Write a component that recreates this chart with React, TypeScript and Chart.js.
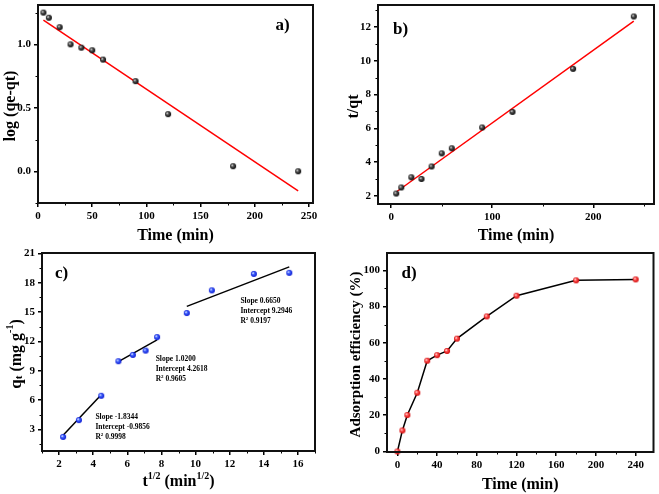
import React, { useEffect, useRef } from 'react';
import { Chart, registerables } from 'chart.js';
Chart.register(...registerables);

const FONT = "'Liberation Serif', 'Times New Roman', serif";

// ---- Panel a: pseudo-first-order ----
const timeA = [5, 10, 20, 30, 40, 50, 60, 90, 120, 180, 240];
const logQeQt = [1.25, 1.21, 1.135, 1.0, 0.974, 0.953, 0.88, 0.71, 0.45, 0.04, 0.0];
const fitAx = [5, 240];
const fitAy = [1.19, -0.155];
const ticksAx = [0, 50, 100, 150, 200, 250];
const ticksAy = [0, 0.5, 1.0];

// ---- Panel b: pseudo-second-order ----
const timeB = [5, 10, 20, 30, 40, 50, 60, 90, 120, 180, 240];
const tOverQt = [2.14, 2.5, 3.1, 3.0, 3.74, 4.52, 4.82, 6.05, 6.97, 9.52, 12.62];
const fitBx = [5, 240];
const fitBy = [2.23, 12.35];
const ticksBx = [0, 100, 200];
const ticksBy = [2, 4, 6, 8, 10, 12];

// ---- Panel c: intraparticle diffusion ----
const sqrtT = [2.236, 3.162, 4.472, 5.477, 6.325, 7.071, 7.746, 9.487, 10.954, 13.416, 15.492];
const qt = [2.24, 3.96, 6.45, 9.98, 10.63, 11.07, 12.45, 14.91, 17.23, 18.91, 19.02];
const fitC1x = [2.236, 4.472];
const fitC1y = [2.4, 6.55];
const fitC2x = [5.477, 7.746];
const fitC2y = [9.94, 12.17];
const fitC3x = [9.487, 15.492];
const fitC3y = [15.59, 19.63];
const ticksCx = [2, 4, 6, 8, 10, 12, 14, 16];
const ticksCy = [3, 6, 9, 12, 15, 18, 21];
const noteX = [4.13, 7.66, 12.63];
const noteY = [4.3, 10.19, 16.17];
const noteSlope = ['-1.8344', '1.0200', '0.6650'];
const noteIntercept = ['-0.9856', '4.2618', '9.2946'];
const noteR2 = ['0.9998', '0.9605', '0.9197'];

// ---- Panel d: adsorption efficiency ----
const timeD = [0, 5, 10, 20, 30, 40, 50, 60, 90, 120, 180, 240];
const efficiency = [0, 11.6, 20.1, 32.4, 50.1, 53.2, 55.5, 62.3, 74.6, 86.0, 94.5, 95.0];
const ticksDx = [0, 40, 80, 120, 160, 200, 240];
const ticksDy = [0, 20, 40, 60, 80, 100];

type Seg = { t: string; size: number; dy?: number };

function drawRich(ctx: CanvasRenderingContext2D, segs: Seg[], x: number, y: number, rotate: boolean, align: 'center' | 'left' = 'center') {
  ctx.save();
  ctx.translate(x, y);
  if (rotate) ctx.rotate(-Math.PI / 2);
  ctx.fillStyle = '#000';
  ctx.textBaseline = 'middle';
  ctx.textAlign = 'left';
  let w = 0;
  for (const s of segs) {
    ctx.font = `bold ${s.size}px ${FONT}`;
    w += ctx.measureText(s.t).width;
  }
  let cx = align === 'center' ? -w / 2 : 0;
  for (const s of segs) {
    ctx.font = `bold ${s.size}px ${FONT}`;
    ctx.fillText(s.t, cx, s.dy || 0);
    cx += ctx.measureText(s.t).width;
  }
  ctx.restore();
}

function sphere(base: string, mid: string, r: number) {
  const c = document.createElement('canvas');
  const s = Math.ceil(r * 2) + 2;
  c.width = s;
  c.height = s;
  const g = c.getContext('2d')!;
  const grad = g.createRadialGradient(s / 2 - r * 0.35, s / 2 - r * 0.35, 0.2, s / 2, s / 2, r);
  grad.addColorStop(0, '#ffffff');
  grad.addColorStop(0.35, mid);
  grad.addColorStop(1, base);
  g.fillStyle = grad;
  g.beginPath();
  g.arc(s / 2, s / 2, r, 0, Math.PI * 2);
  g.fill();
  return c;
}

const pts = (xs: number[], ys: number[]) => xs.map((x, i) => ({ x, y: ys[i] }));

interface PanelCfg {
  W: number; H: number; L: number; T: number; R: number; B: number;
  xmin: number; xmax: number; ymin: number; ymax: number;
  xt: number[]; yt: number[]; yfmt?: (v: number) => string;
  minorX: number; minorY: number;
  titleX: Seg[]; titleXY: number;
  titleY: Seg[]; titleYX: number;
  label: string; labelX: number; labelY: number;
  datasets: any[];
  notes?: boolean;
}

function makeChart(canvas: HTMLCanvasElement, cfg: PanelCfg) {
  const tickFont = { family: FONT, size: 11, weight: 'bold' as const };
  const deco = {
    id: 'deco',
    afterDraw(chart: any) {
      const ctx: CanvasRenderingContext2D = chart.ctx;
      const a = chart.chartArea;
      const xs = chart.scales.x;
      const ys = chart.scales.y;
      ctx.save();
      // minor ticks
      ctx.strokeStyle = '#000';
      ctx.lineWidth = 1;
      const isMajor = (v: number, arr: number[]) => arr.some((m) => Math.abs(m - v) < 1e-6);
      for (let v = Math.ceil(cfg.xmin / cfg.minorX) * cfg.minorX; v <= cfg.xmax + 1e-9; v += cfg.minorX) {
        if (isMajor(v, cfg.xt)) continue;
        const px = Math.round(xs.getPixelForValue(v)) + 0.5;
        ctx.beginPath();
        ctx.moveTo(px, a.bottom);
        ctx.lineTo(px, a.bottom + 2.5);
        ctx.stroke();
      }
      for (let v = Math.ceil(cfg.ymin / cfg.minorY) * cfg.minorY; v <= cfg.ymax + 1e-9; v += cfg.minorY) {
        if (isMajor(v, cfg.yt)) continue;
        const py = Math.round(ys.getPixelForValue(v)) + 0.5;
        ctx.beginPath();
        ctx.moveTo(a.left - 2.5, py);
        ctx.lineTo(a.left, py);
        ctx.stroke();
      }
      // frame
      ctx.lineWidth = 2;
      ctx.strokeStyle = '#111';
      ctx.strokeRect(a.left, a.top, a.right - a.left, a.bottom - a.top);
      ctx.restore();
      // titles
      drawRich(ctx, cfg.titleX, (a.left + a.right) / 2, cfg.titleXY, false);
      drawRich(ctx, cfg.titleY, cfg.titleYX, (a.top + a.bottom) / 2 + 2, true);
      drawRich(ctx, [{ t: cfg.label, size: 17 }], cfg.labelX, cfg.labelY, false);
      if (cfg.notes) {
        for (let i = 0; i < noteX.length; i++) {
          const px = xs.getPixelForValue(noteX[i]);
          const py = ys.getPixelForValue(noteY[i]);
          drawRich(ctx, [{ t: 'Slope ' + noteSlope[i], size: 7.5 }], px, py, false, 'left');
          drawRich(ctx, [{ t: 'Intercept ' + noteIntercept[i], size: 7.5 }], px, py + 10, false, 'left');
          drawRich(ctx, [{ t: 'R', size: 7.5 }, { t: '2', size: 5, dy: -2.5 }, { t: ' ' + noteR2[i], size: 7.5 }], px, py + 20, false, 'left');
        }
      }
    },
  };
  return new Chart(canvas, {
    type: 'scatter',
    data: { datasets: cfg.datasets },
    options: {
      responsive: false,
      animation: false,
      devicePixelRatio: 1,
      layout: { padding: { left: 0, top: cfg.T, right: cfg.W - cfg.R, bottom: 0 } },
      plugins: { legend: { display: false }, tooltip: { enabled: false } },
      scales: {
        x: {
          type: 'linear',
          min: cfg.xmin,
          max: cfg.xmax,
          afterBuildTicks: (s: any) => { s.ticks = cfg.xt.map((v) => ({ value: v })); },
          afterFit: (s: any) => { s.height = cfg.H - cfg.B; s.paddingLeft = 0; s.paddingRight = 0; s.paddingTop = 0; s.paddingBottom = 0; },
          ticks: { font: tickFont, color: '#000', padding: 3, maxRotation: 0, autoSkip: false },
          grid: { drawOnChartArea: false, drawTicks: true, tickLength: 4, color: '#000', lineWidth: 1.5 },
          border: { display: false },
        },
        y: {
          type: 'linear',
          min: cfg.ymin,
          max: cfg.ymax,
          afterBuildTicks: (s: any) => { s.ticks = cfg.yt.map((v) => ({ value: v })); },
          afterFit: (s: any) => { s.width = cfg.L; s.paddingLeft = 0; s.paddingRight = 0; s.paddingTop = 0; s.paddingBottom = 0; },
          ticks: {
            font: tickFont, color: '#000', padding: 3, autoSkip: false,
            callback: (v: any) => (cfg.yfmt ? cfg.yfmt(Number(v)) : String(v)),
          },
          grid: { drawOnChartArea: false, drawTicks: true, tickLength: 4, color: '#000', lineWidth: 1.5 },
          border: { display: false },
        },
      },
    },
    plugins: [deco],
  } as any);
}

function Panel({ left, top, W, H, build }: { left: number; top: number; W: number; H: number; build: (c: HTMLCanvasElement) => Chart }) {
  const ref = useRef<HTMLCanvasElement>(null);
  useEffect(() => {
    const ch = build(ref.current!);
    return () => ch.destroy();
  }, []);
  return <canvas ref={ref} width={W} height={H} style={{ position: 'absolute', left, top, width: W, height: H }} />;
}

export default function App() {
  const blackBall = sphere('#000000', '#5a5a5a', 3);
  const blueBall = sphere('#0010d0', '#4a6cff', 3);
  const redBall = sphere('#d00000', '#ff5a5a', 3);

  const ptsDs = (data: any, img: any) => ({ data, pointStyle: img, pointRadius: 3, showLine: false, clip: false });
  const lineDs = (data: any, color: string) => ({ data, showLine: true, borderColor: color, borderWidth: 1.5, pointRadius: 0, fill: false });

  const titleTime: Seg[] = [{ t: 'Time (min)', size: 16 }];

  const buildA = (c: HTMLCanvasElement) => makeChart(c, {
    W: 329, H: 245, L: 38, T: 2, R: 313, B: 203,
    xmin: 0, xmax: 253.7, ymin: -0.25, ymax: 1.31,
    xt: ticksAx, yt: ticksAy, yfmt: (v) => v.toFixed(1),
    minorX: 25, minorY: 0.25,
    titleX: titleTime, titleXY: 236,
    titleY: [{ t: 'log (qe-qt)', size: 16 }], titleYX: 10.5,
    label: 'a)', labelX: 282.5, labelY: 26,
    datasets: [ptsDs(pts(timeA, logQeQt), blackBall), lineDs(pts(fitAx, fitAy), '#ff0000')],
  });
  const buildB = (c: HTMLCanvasElement) => makeChart(c, {
    W: 330, H: 245, L: 49, T: 1, R: 325, B: 204,
    xmin: -13, xmax: 260, ymin: 1.52, ymax: 13.3,
    xt: ticksBx, yt: ticksBy,
    minorX: 50, minorY: 1,
    titleX: titleTime, titleXY: 236,
    titleY: [{ t: 't/qt', size: 16 }], titleYX: 25,
    label: 'b)', labelX: 71.5, labelY: 30,
    datasets: [ptsDs(pts(timeB, tOverQt), blackBall), lineDs(pts(fitBx, fitBy), '#ff0000')],
  });
  const buildC = (c: HTMLCanvasElement) => makeChart(c, {
    W: 329, H: 249, L: 42, T: 8, R: 315, B: 206,
    xmin: 1, xmax: 17, ymin: 0.8, ymax: 21.05,
    xt: ticksCx, yt: ticksCy,
    minorX: 1, minorY: 1.5,
    titleX: [{ t: 't', size: 16 }, { t: '1/2', size: 10, dy: -6 }, { t: ' (min', size: 16 }, { t: '1/2', size: 10, dy: -6 }, { t: ')', size: 16 }],
    titleXY: 237,
    titleY: [{ t: 'q', size: 17 }, { t: 't', size: 11, dy: 3 }, { t: ' (mg g', size: 16 }, { t: '-1', size: 10, dy: -6 }, { t: ')', size: 16 }],
    titleYX: 16.5,
    label: 'c)', labelX: 61.5, labelY: 29,
    notes: true,
    datasets: [
      ptsDs(pts(sqrtT, qt), blueBall),
      lineDs(pts(fitC1x, fitC1y), '#000000'),
      lineDs(pts(fitC2x, fitC2y), '#000000'),
      lineDs(pts(fitC3x, fitC3y), '#000000'),
    ],
  });
  const buildD = (c: HTMLCanvasElement) => makeChart(c, {
    W: 330, H: 249, L: 58, T: 8, R: 325, B: 207,
    xmin: -10.5, xmax: 258, ymin: -0.3, ymax: 109.6,
    xt: ticksDx, yt: ticksDy,
    minorX: 20, minorY: 10,
    titleX: titleTime, titleXY: 240,
    titleY: [{ t: 'Adsorption efficiency (%)', size: 15 }], titleYX: 27,
    label: 'd)', labelX: 80, labelY: 29,
    datasets: [{
      data: pts(timeD, efficiency), showLine: true, borderColor: '#000', borderWidth: 1.5,
      pointStyle: redBall, pointRadius: 3, clip: false,
    }],
  });

  return (
    <div style={{ position: 'absolute', left: 0, top: 0, width: 659, height: 494, background: '#fff' }}>
      <Panel left={0} top={0} W={329} H={245} build={buildA} />
      <Panel left={329} top={0} W={330} H={245} build={buildB} />
      <Panel left={0} top={245} W={329} H={249} build={buildC} />
      <Panel left={329} top={245} W={330} H={249} build={buildD} />
    </div>
  );
}
